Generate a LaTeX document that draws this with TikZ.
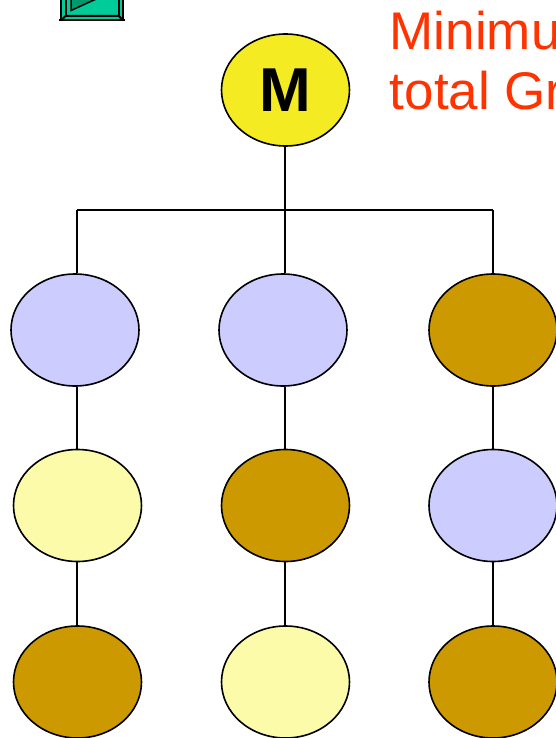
\documentclass[tikz,border=0pt]{standalone}
\usepackage{fontspec}
\setmainfont{Liberation Sans}
\usetikzlibrary{shapes.geometric}
\definecolor{lilac}{RGB}{204,204,255}
\definecolor{cream}{RGB}{251,251,170}
\definecolor{ochre}{RGB}{204,153,0}
\definecolor{sun}{RGB}{245,235,35}
\definecolor{mint}{RGB}{0,204,153}
\definecolor{darkmint}{RGB}{0,153,110}
\definecolor{redorange}{RGB}{255,51,0}
\tikzset{heading/.style = {shape=rectangle, draw=none, anchor=base west, minimum width=0pt, minimum height=0pt, text=redorange, font=\fontsize{53}{60}\selectfont}}
\begin{document}
\begin{tikzpicture}[x=1pt, y=-1pt, line width=1.6pt, every node/.style = {shape=ellipse, draw, minimum width=128pt, minimum height=112pt, inner sep=0pt}]
    \useasboundingbox (0,0) rectangle (556,738);
    \clip (0,0) rectangle (556,738);
    % top node
    \node[fill=sun, font=\bfseries\fontsize{62}{62}\selectfont] (m) at (285.5,90) {M};
    % three columns
    \node[fill=lilac] (a1) at (75,330) {};
    \node[fill=lilac] (b1) at (283,330) {};
    \node[fill=ochre] (c1) at (493,330) {};
    \node[fill=cream] (a2) at (77.5,505.5) {};
    \node[fill=ochre] (b2) at (285.5,505.5) {};
    \node[fill=lilac] (c2) at (493,505.5) {};
    \node[fill=ochre] (a3) at (77.5,682) {};
    \node[fill=cream] (b3) at (285.5,682) {};
    \node[fill=ochre] (c3) at (493,682) {};
    % bus
    \coordinate (busa) at (77,210);
    \coordinate (busb) at (285,210);
    \coordinate (busc) at (493,210);
    \draw (m.south -| busb) -- (busb);
    \draw (busa) -- (busc);
    \draw (busa) -- (busa |- a1.north);
    \draw (busb) -- (busb |- b1.north);
    \draw (busc) -- (c1);
    \draw (busa |- a1.south) -- (busa |- a2.north);
    \draw (busb |- b1.south) -- (busb |- b2.north);
    \draw (c1) -- (c2);
    \draw (busa |- a2.south) -- (busa |- a3.north);
    \draw (busb |- b2.south) -- (busb |- b3.north);
    \draw (c2) -- (c3);
    % button
    \filldraw[fill=mint, line width=2pt] (61,-10) rectangle (123,20.5);
    \draw[line width=2pt] (59,20.5) -- (125,20.5);
    \draw[line width=2pt] (61,20.5) -- (65.5,16) -- (119,16) -- (123,20.5);
    \draw[line width=2pt] (65.5,-10) -- (65.5,16);
    \draw[line width=2pt] (119,-10) -- (119,16);
    \filldraw[fill=darkmint, line width=1.5pt] (71,-5) -- (71,10.5) -- (94,0) -- cycle;
    % heading
    \node[heading] (minimu) at (389,50) {Minimu};
    \node[heading] (totalgr) at (389,110) {total Gr};
\end{tikzpicture}
\end{document}
